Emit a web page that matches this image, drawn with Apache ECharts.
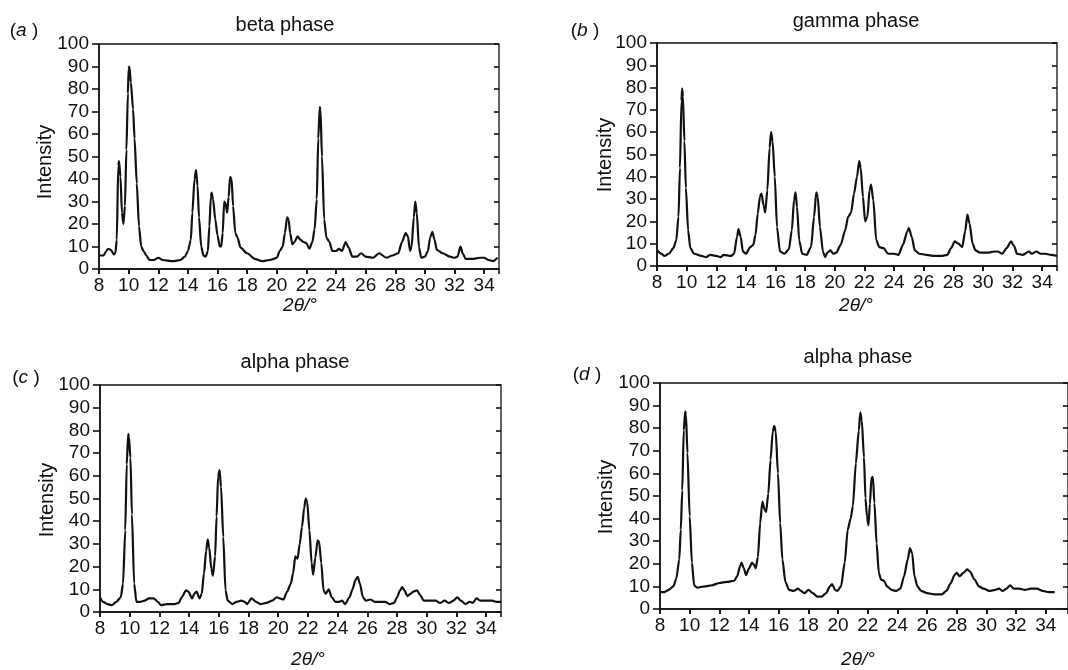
<!DOCTYPE html>
<html><head><meta charset="utf-8">
<script src="https://cdn.jsdelivr.net/npm/echarts@6/dist/echarts.min.js"></script>
<style>html,body{margin:0;background:#fff}#c{width:1068px;height:670px}</style>
</head><body><div id="c"></div>
<script>
// ---- data ----
const panelLetters = ['a', 'b', 'c', 'd'];
const panelTitles = ['beta phase', 'gamma phase', 'alpha phase', 'alpha phase'];
const xAxisLabel = ['2', 'θ', '/°'];
const yAxisLabel = 'Intensity';
const xMin = 8, xMax = 35, xStep = 2;
const yMin = 0, yMax = 100, yStep = 10;

const betaPhase = [[8.0,6],[8.3,6],[8.5,8],[8.6,9],[8.8,8.5],[9.0,6.5],[9.1,7],[9.2,13],[9.3,46],[9.35,48],[9.45,41],[9.55,25],[9.65,20],[9.75,28],[9.85,53],[9.95,78],[10.0,89],[10.05,90],[10.15,83],[10.3,71],[10.4,58],[10.55,38],[10.7,19],[10.85,10],[11.0,8],[11.2,6],[11.4,4],[11.7,4],[12.0,5],[12.3,4],[13.0,3.5],[13.5,4],[13.8,5.5],[14.0,8],[14.2,13],[14.3,25],[14.45,40],[14.55,44],[14.65,37],[14.75,23],[14.9,10],[15.05,6],[15.2,5.5],[15.35,8],[15.45,19],[15.55,32],[15.6,34],[15.7,31],[15.85,22],[16.0,15],[16.15,10],[16.25,10],[16.35,16],[16.45,30],[16.55,29],[16.65,25],[16.75,32],[16.85,41],[16.95,40],[17.05,28],[17.2,16],[17.35,14],[17.55,9.5],[18.0,7],[18.5,4.5],[19.0,3.5],[19.5,4],[19.8,4.5],[20.0,5],[20.2,8],[20.4,10],[20.55,16],[20.7,23],[20.8,22],[20.9,16],[21.05,11],[21.2,12],[21.4,14.5],[21.6,13],[21.8,12],[22.0,11.5],[22.2,9],[22.4,12],[22.55,17.5],[22.7,31],[22.8,58],[22.9,72],[22.95,71],[23.05,50],[23.2,22],[23.35,14],[23.55,12],[23.75,8],[24.0,8],[24.2,9],[24.4,8],[24.65,12],[24.85,9.5],[25.1,5.5],[25.4,5.5],[25.7,7],[26.0,5.5],[26.5,5],[26.9,7],[27.4,5],[27.8,6],[28.2,7],[28.45,12],[28.7,16],[28.85,14.5],[29.0,8],[29.1,10],[29.25,23],[29.35,30],[29.45,25],[29.6,9.5],[29.75,5],[30.0,5.5],[30.2,8],[30.35,14],[30.5,16.5],[30.65,13],[30.8,8.5],[31.2,7],[31.7,5.5],[32.0,5],[32.2,5.5],[32.4,10],[32.55,7],[32.75,4.5],[33.2,4.5],[33.7,5],[34.0,5],[34.3,4],[34.6,3.5],[34.9,5]];

const gammaPhase = [[8.0,7],[8.3,5.5],[8.5,4.5],[8.8,5.5],[9.1,8],[9.3,11.5],[9.45,22],[9.55,44],[9.65,74],[9.7,79.5],[9.75,76],[9.85,56],[9.95,35],[10.1,16],[10.25,8],[10.5,5.5],[11.0,4.5],[11.3,4],[11.6,5],[12.0,4.5],[12.3,4],[12.5,5],[13.0,4.5],[13.2,5.5],[13.4,13],[13.5,16.5],[13.65,13],[13.8,6.5],[14.0,5.5],[14.3,8.5],[14.5,9.5],[14.65,14],[14.8,23.5],[14.95,31],[15.05,32.5],[15.2,27],[15.3,24],[15.45,34],[15.6,53],[15.7,60],[15.8,56],[15.95,40],[16.1,17.5],[16.3,6.5],[16.6,5.5],[16.9,7.5],[17.1,16],[17.25,29.5],[17.35,33],[17.45,26.5],[17.6,11.5],[17.8,5.5],[18.1,5],[18.4,8.5],[18.6,22],[18.75,33],[18.85,31],[19.0,17.5],[19.2,6.5],[19.35,4],[19.5,6],[19.7,7],[19.9,5.5],[20.1,6],[20.4,9.5],[20.7,16],[20.9,22],[21.1,24],[21.3,32.5],[21.5,40],[21.65,47],[21.75,44],[21.9,31],[22.05,20],[22.2,22],[22.35,34],[22.45,36.5],[22.6,29.5],[22.8,11.5],[23.0,8.5],[23.3,8],[23.6,5.5],[24.0,5.5],[24.3,5],[24.6,9.5],[24.9,15.5],[25.0,17],[25.2,13],[25.4,7],[25.7,5.5],[26.2,5],[26.7,4.5],[27.2,4.5],[27.6,5],[27.85,8],[28.1,11],[28.35,10],[28.6,8.5],[28.8,15.5],[28.95,23],[29.1,19],[29.3,10],[29.5,7],[29.8,6],[30.3,6],[30.8,6.5],[31.0,6.5],[31.3,5.5],[31.6,8],[31.9,11],[32.1,9],[32.3,5.5],[32.7,5],[33.1,6.5],[33.3,5.5],[33.6,6.5],[33.9,5.5],[34.2,5.5],[34.6,5],[35.0,4.5]];

const alphaPhaseC = [[8.0,6.5],[8.2,4.5],[8.5,3.5],[8.8,3],[9.1,4.5],[9.4,6.5],[9.55,12.5],[9.7,36],[9.8,65],[9.9,78.5],[9.95,77],[10.05,68],[10.15,43],[10.3,12.5],[10.45,4.5],[10.7,4.5],[11.0,5],[11.3,6],[11.6,6],[11.9,4.5],[12.1,3],[12.5,3.5],[13.0,3.5],[13.3,4],[13.5,6.5],[13.8,9.5],[13.95,9],[14.2,6],[14.35,8],[14.5,9],[14.7,6],[14.85,8],[15.0,17],[15.15,27],[15.25,32],[15.35,28.5],[15.5,19],[15.6,16],[15.75,24.5],[15.85,42],[15.95,59.5],[16.05,62.5],[16.15,55],[16.3,33],[16.45,9.5],[16.6,5],[16.9,3.5],[17.2,4.5],[17.5,5],[17.75,4.5],[17.9,3.5],[18.2,6],[18.5,4.5],[18.8,3.5],[19.2,4],[19.6,5],[19.9,6.5],[20.1,6],[20.35,5.5],[20.6,9],[20.85,12.5],[21.0,17],[21.15,24.5],[21.3,23.5],[21.45,30],[21.6,37.5],[21.75,46],[21.85,50],[21.95,48.5],[22.1,36],[22.25,21.5],[22.35,16.5],[22.5,24],[22.65,31.5],[22.75,31],[22.9,21.5],[23.05,9.5],[23.2,8],[23.4,10],[23.6,6.5],[23.85,4.5],[24.1,4.5],[24.3,5],[24.5,3.5],[24.8,6.5],[25.0,10],[25.2,14],[25.35,15.5],[25.5,12.5],[25.7,6.5],[25.9,5],[26.2,5.5],[26.5,4.5],[26.8,4.5],[27.2,4.5],[27.5,3.5],[27.8,4],[28.0,6.5],[28.2,9.5],[28.35,11],[28.5,9.5],[28.7,7],[28.9,8],[29.1,9],[29.35,9.5],[29.55,7.5],[29.8,5],[30.2,5],[30.6,5],[30.9,4],[31.2,5],[31.5,4],[31.8,5],[32.05,6.5],[32.3,5],[32.6,3.5],[32.9,4.5],[33.1,4],[33.35,6],[33.6,5],[34.0,5],[34.4,5],[34.7,4.5],[35.0,4.5]];

const alphaPhaseD = [[8.0,7.5],[8.3,7.5],[8.6,8.5],[8.9,10],[9.1,13.5],[9.3,22],[9.4,35],[9.5,52.5],[9.6,79],[9.7,87.5],[9.75,86],[9.85,69],[10.0,41],[10.15,20.5],[10.3,10.5],[10.5,9.5],[11.0,10],[11.5,10.5],[12.0,11.5],[12.5,12],[13.0,12.5],[13.2,14.5],[13.4,19],[13.5,20.5],[13.65,18],[13.8,15],[14.0,18],[14.2,20.5],[14.35,19.5],[14.45,18],[14.6,23],[14.75,38],[14.9,47.5],[15.05,44],[15.15,43],[15.3,51],[15.45,66],[15.6,78.5],[15.7,81],[15.8,78.5],[15.95,60],[16.1,38],[16.25,22],[16.45,12],[16.7,8.5],[17.0,8],[17.3,9],[17.5,8],[17.75,7],[18.0,8.5],[18.3,7],[18.6,5.5],[18.9,5.5],[19.2,7],[19.45,10],[19.6,11],[19.8,8.5],[19.95,8],[20.2,10],[20.45,20.5],[20.65,35],[20.85,40],[21.0,45.5],[21.2,64.5],[21.4,79],[21.5,87],[21.6,83.5],[21.75,67],[21.85,49],[21.95,41],[22.05,37],[22.15,46.5],[22.25,58],[22.35,58.5],[22.45,47],[22.6,29],[22.75,16],[22.9,13],[23.1,12.5],[23.3,10],[23.6,8.5],[23.9,8],[24.2,9],[24.45,14.5],[24.7,22],[24.85,27],[25.0,24.5],[25.15,14.5],[25.35,10],[25.6,8],[26.0,7],[26.5,6.5],[27.0,6.5],[27.3,8],[27.6,11.5],[27.85,15],[28.0,16],[28.2,14.5],[28.45,16],[28.7,17.5],[28.9,16.5],[29.2,13],[29.5,10],[29.8,9],[30.2,8],[30.6,8.5],[30.85,9],[31.1,8],[31.35,9],[31.6,10.5],[31.85,9],[32.2,9],[32.6,8.5],[33.0,9],[33.4,9],[33.8,8],[34.2,7.5],[34.6,7.5]];

const panelData = [betaPhase, gammaPhase, alphaPhaseC, alphaPhaseD];

// ---- layout ----
const grids = [
  {left: 99, top: 44, width: 400, height: 225, xMaxShown: 35},
  {left: 657, top: 43, width: 400, height: 223, xMaxShown: 35},
  {left: 100, top: 385, width: 401, height: 227, xMaxShown: 35},
  {left: 660, top: 383, width: 408, height: 226, xMaxShown: 35.5}
];
const letterPos = [[24, 31], [585, 31], [26, 378], [587, 375]];
const titlePos = [[285, 25], [856, 21], [295, 362], [858, 357]];
const xNamePos = [[300, 306], [856, 306], [308, 660], [858, 660]];
const yNamePos = [[45, 162], [605, 155], [47, 500], [606, 497]];

const FONT = 'Liberation Sans, Arial, Helvetica, sans-serif';
const INK = '#111';

const option = {
  animation: false,
  backgroundColor: '#fff',
  grid: [], xAxis: [], yAxis: [], series: [], graphic: []
};

grids.forEach((g, i) => {
  option.grid.push({left: g.left, top: g.top, width: g.width, height: g.height,
    show: true, borderColor: INK, borderWidth: 1.3, backgroundColor: 'transparent'});
  const xBase = {gridIndex: i, type: 'value', min: xMin, max: g.xMaxShown, interval: xStep,
    splitLine: {show: false}};
  option.xAxis.push(Object.assign({}, xBase, {
    axisLine: {show: true, lineStyle: {color: INK, width: 1.6}},
    axisTick: {show: true, inside: false, length: 5, lineStyle: {color: INK, width: 1.6}},
    axisLabel: {show: true, color: INK, fontSize: 19, fontFamily: FONT, margin: 7, showMaxLabel: false}
  }));
  option.xAxis.push(Object.assign({}, xBase, {
    axisLine: {show: false},
    axisTick: {show: true, inside: true, length: 5, lineStyle: {color: INK, width: 1.6}},
    axisLabel: {show: false}
  }));
  const yBase = {gridIndex: i, type: 'value', min: yMin, max: yMax, interval: yStep,
    splitLine: {show: false}};
  option.yAxis.push(Object.assign({}, yBase, {
    axisLine: {show: true, lineStyle: {color: INK, width: 1.6}},
    axisTick: {show: true, inside: false, length: 7, lineStyle: {color: INK, width: 1.6}},
    axisLabel: {show: true, color: INK, fontSize: 19, fontFamily: FONT, margin: 10}
  }));
  option.yAxis.push(Object.assign({}, yBase, {
    axisLine: {show: false},
    axisTick: {show: true, inside: true, length: 5, lineStyle: {color: INK, width: 1.6}},
    axisLabel: {show: false}
  }));
  option.series.push({
    type: 'line', xAxisIndex: 2 * i, yAxisIndex: 2 * i, data: panelData[i],
    showSymbol: false, smooth: 0.25, smoothMonotone: 'x',
    lineStyle: {color: INK, width: 2.2}, clip: true
  });
  option.graphic.push({
    type: 'text', x: letterPos[i][0], y: letterPos[i][1],
    style: {text: '{p|(}{i|' + panelLetters[i] + '}{p| )}', align: 'center', verticalAlign: 'middle',
      rich: {p: {font: '19px ' + FONT, fill: INK}, i: {font: 'italic 19px ' + FONT, fill: INK}}}
  });
  option.graphic.push({
    type: 'text', x: titlePos[i][0], y: titlePos[i][1],
    style: {text: panelTitles[i], font: '20px ' + FONT, fill: INK, align: 'center', verticalAlign: 'middle'}
  });
  option.graphic.push({
    type: 'text', x: xNamePos[i][0], y: xNamePos[i][1],
    style: {text: '{p|' + xAxisLabel[0] + '}{i|' + xAxisLabel[1] + '}{p|' + xAxisLabel[2] + '}',
      align: 'center', verticalAlign: 'middle',
      rich: {p: {font: 'italic 19px ' + FONT, fill: INK}, i: {font: 'italic 19px ' + FONT, fill: INK}}}
  });
  option.graphic.push({
    type: 'text', x: yNamePos[i][0], y: yNamePos[i][1], rotation: Math.PI / 2,
    style: {text: yAxisLabel, font: '20px ' + FONT, fill: INK, align: 'center', verticalAlign: 'middle'}
  });
});

const chart = echarts.init(document.getElementById('c'), null, {renderer: 'canvas'});
chart.setOption(option);
</script>
</body></html>
